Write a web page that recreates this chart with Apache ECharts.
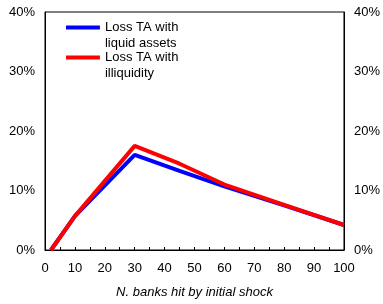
<!DOCTYPE html>
<html>
<head>
<meta charset="utf-8">
<script src="https://cdn.jsdelivr.net/npm/echarts@6/dist/echarts.min.js"></script>
<style>html,body{margin:0;padding:0;background:#fff;}#c{width:383px;height:304px;}</style>
</head>
<body>
<div id="c"></div>
<script>
var banksHit = [2, 10, 30, 45, 60, 80, 100];
var lossLiquid = [0, 5.7, 16.0, 13.3, 10.7, 7.5, 4.2];
var lossIlliquid = [0, 5.7, 17.5, 14.5, 11.0, 7.6, 4.2];
var seriesNames = ['Loss TA with\nliquid assets', 'Loss TA with\nilliquidity'];
var xTitle = 'N. banks hit by initial shock';

function pairs(xs, ys) { return xs.map(function (x, i) { return [x, ys[i]]; }); }

var font = 'Liberation Sans, Arial, sans-serif';
var chart = echarts.init(document.getElementById('c'), null, {renderer: 'canvas'});
var yAxisCommon = {
  type: 'value', min: 0, max: 40, interval: 10,
  axisLine: {show: true, lineStyle: {color: '#000', width: 1}},
  axisTick: {show: false},
  splitLine: {show: false},
  axisLabel: {formatter: '{value}%', color: '#000', fontSize: 13, fontFamily: font, margin: 10}
};
chart.setOption({
  animation: false,
  grid: {left: 45, right: 36, top: 12, bottom: 53.5, show: true, borderColor: '#000', borderWidth: 1, containLabel: false},
  legend: {
    orient: 'vertical', left: 66, top: 19, padding: 0, itemGap: -2,
    itemWidth: 34, itemHeight: 19,
    icon: 'path://M0,0H34V4H0Z M0,19H0.05V19.05H0Z',
    textStyle: {color: '#000', fontSize: 13, fontFamily: font, lineHeight: 16},
    data: seriesNames
  },
  xAxis: {
    type: 'value', min: 0, max: 100, interval: 10,
    name: xTitle, nameLocation: 'middle', nameGap: 36,
    nameTextStyle: {color: '#000', fontSize: 13, fontStyle: 'italic', fontFamily: font},
    axisLine: {show: true, lineStyle: {color: '#000', width: 1}},
    axisTick: {show: true, inside: true, length: 3, lineStyle: {color: '#000'}},
    minorTick: {show: true, splitNumber: 2, length: 3, lineStyle: {color: '#000'}},
    splitLine: {show: false},
    axisLabel: {color: '#000', fontSize: 13, fontFamily: font, margin: 12}
  },
  yAxis: [
    Object.assign({}, yAxisCommon, {position: 'left'}),
    Object.assign({}, yAxisCommon, {position: 'right'})
  ],
  series: [
    {name: seriesNames[0], type: 'line', data: pairs(banksHit, lossLiquid), showSymbol: false, symbol: 'none',
     lineStyle: {color: '#0000FF', width: 4}, itemStyle: {color: '#0000FF'}},
    {name: seriesNames[1], type: 'line', data: pairs(banksHit, lossIlliquid), showSymbol: false, symbol: 'none',
     lineStyle: {color: '#FF0000', width: 4}, itemStyle: {color: '#FF0000'}}
  ]
});
</script>
</body>
</html>
